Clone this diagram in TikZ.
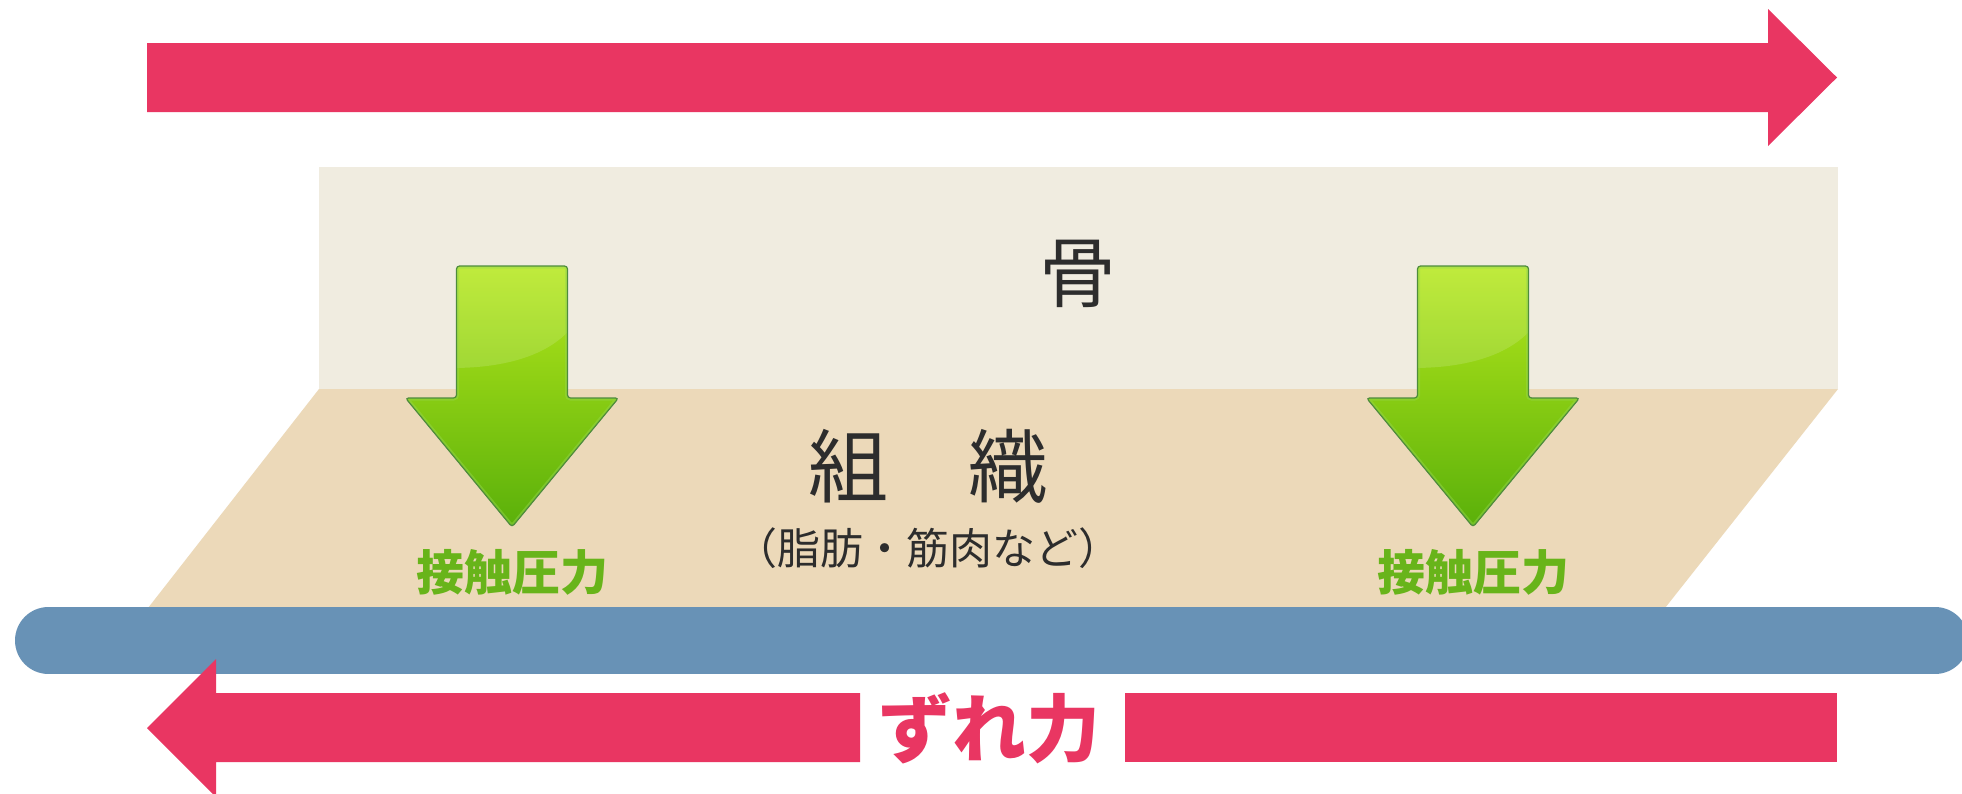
\documentclass[tikz,border=0pt]{standalone}
\usepackage{fontspec}
\newfontfamily\jp{Noto Sans CJK JP}
\definecolor{shearred}{RGB}{233,54,98}
\definecolor{boneC}{RGB}{240,236,224}
\definecolor{tissueC}{RGB}{236,217,185}
\definecolor{barblue}{RGB}{104,146,182}
\definecolor{ink}{RGB}{45,45,45}
\definecolor{gtext}{RGB}{104,180,26}
\definecolor{gA}{RGB}{182,232,28}
\definecolor{gB}{RGB}{118,194,16}
\definecolor{gC}{RGB}{90,176,10}
\definecolor{gEdge}{RGB}{150,215,80}
\definecolor{gDark}{RGB}{78,140,60}
\tikzset{
  jptext/.style={inner sep=0pt, text=ink},
  presslabel/.style={inner sep=0pt, text=gtext, font=\jp\bfseries\fontsize{48}{48}\selectfont},
  pics/pressurearrow/.style={code={
    \fill[top color=gA, middle color=gB, bottom color=gC, rounded corners=3]
      (-55.5,0) -- (55.5,0) -- (55.5,132) -- (106.5,132) -- (0,261) -- (-106.5,132) -- (-55.5,132) -- cycle;
    \begin{scope}
      \clip[rounded corners=3]
        (-55.5,0) -- (55.5,0) -- (55.5,132) -- (106.5,132) -- (0,261) -- (-106.5,132) -- (-55.5,132) -- cycle;
      \fill[white, opacity=0.14] (-60,-5) -- (60,-5) -- (60,61) .. controls (40,86) and (0,102) .. (-60,102) -- cycle;
      \draw[gEdge, line width=5, opacity=0.45, rounded corners=3]
        (-55.5,0) -- (55.5,0) -- (55.5,132) -- (106.5,132) -- (0,261) -- (-106.5,132) -- (-55.5,132) -- cycle;
    \end{scope}
    \draw[gDark, line width=1.2, rounded corners=3]
      (-55.5,0) -- (55.5,0) -- (55.5,132) -- (106.5,132) -- (0,261) -- (-106.5,132) -- (-55.5,132) -- cycle;
  }}
}
\begin{document}
\begin{tikzpicture}[x=1pt,y=-1pt]
\clip (0,0) rectangle (1962,793);
\fill[white] (0,0) rectangle (1962,793);
% top shear arrow
\fill[shearred] (147,43) -- (1768,43) -- (1768,9) -- (1837,77.5) -- (1768,146) -- (1768,112) -- (147,112) -- cycle;
% bone and tissue
\fill[boneC] (319,167) rectangle (1838,389);
\fill[tissueC] (319,389) -- (1838,389) -- (1665,608) -- (148,608) -- cycle;
% skin / surface bar
\draw[barblue, line width=67, line cap=round] (48.5,640.5) -- (1935,640.5);
% bottom shear arrow
\fill[shearred] (147,728) -- (216,659) -- (216,693) -- (860,693) -- (860,762) -- (216,762) -- (216,797) -- cycle;
\fill[shearred] (1125,693) rectangle (1837,762);
% pressure arrows
\pic at (512,266) {pressurearrow};
\pic at (1473,266) {pressurearrow};
% texts
\node[jptext, font=\jp\fontsize{77}{77}\selectfont] (bone) at (1078,274) {骨};
\node[jptext, font=\jp\fontsize{80}{80}\selectfont] (tissue) at (928,466) {組　織};
\node[jptext, font=\jp\fontsize{43}{43}\selectfont] (tissuesub) at (928,548) {（脂肪・筋肉など）};
\node[presslabel] (press1) at (512,572) {接触圧力};
\node[presslabel] (press2) at (1473,572) {接触圧力};
\node[inner sep=0pt, text=shearred, font=\jp\bfseries\fontsize{74}{74}\selectfont] (shear) at (989,728) {ずれ力};
\end{tikzpicture}
\end{document}
